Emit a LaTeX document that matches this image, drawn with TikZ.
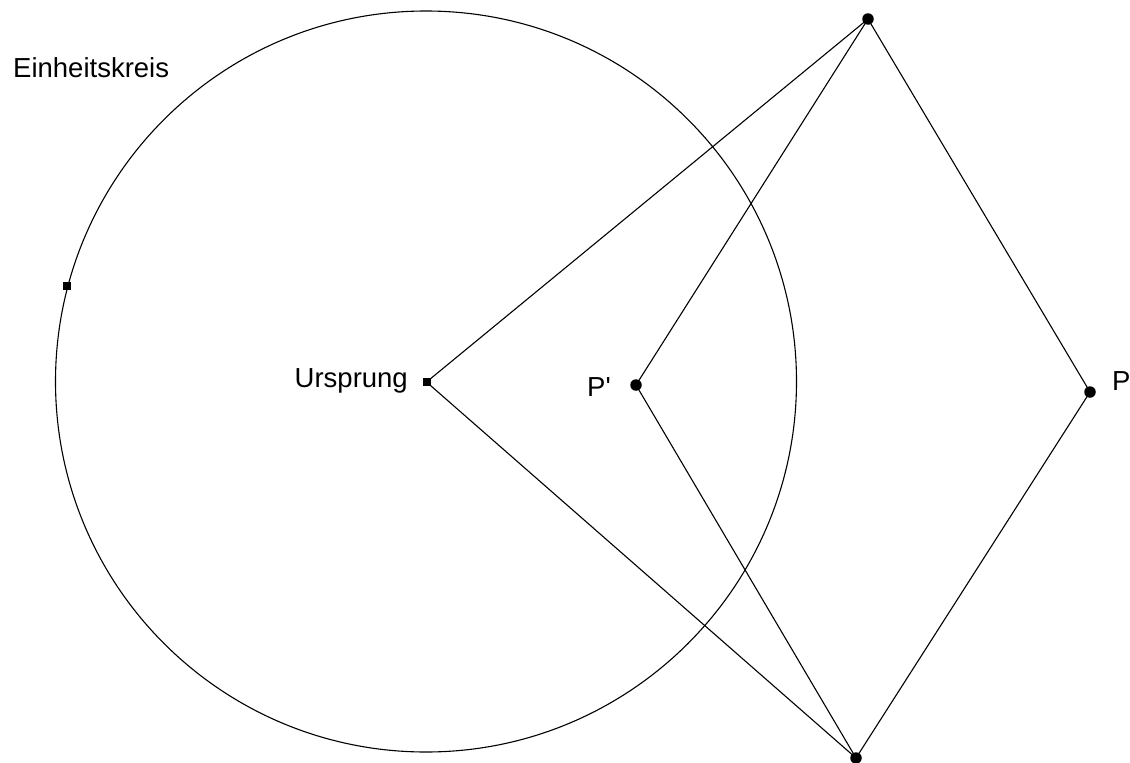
\documentclass[tikz,border=0pt]{standalone}
\usepackage{fontspec}
\setmainfont{Liberation Sans}
\begin{document}
\begin{tikzpicture}[x=1pt,y=-1pt,
  line/.style={draw=black,line width=1.1pt},
  dotpt/.style={circle,fill=black,inner sep=0pt,minimum size=11.5pt},
  sqpt/.style={rectangle,fill=black,inner sep=0pt,minimum size=8pt},
  lbl/.style={inner sep=0pt,font=\fontsize{27.5}{30}\selectfont}]
\useasboundingbox (0,0) rectangle (1130,763);
\coordinate (C) at (426,381.5);
\draw[line] (C) circle[radius=370.5pt];
\node[sqpt] (O) at (426.5,382) {};
\node[sqpt] (S) at (67,285.5) {};
\node[dotpt] (T) at (868,19) {};
\node[dotpt] (B) at (856,758) {};
\node[dotpt] (P) at (1090,392) {};
\node[dotpt] (Pp) at (636,385) {};
\draw[line] (O.center) -- (T.center);
\draw[line] (O.center) -- (B.center);
\draw[line] (Pp.center) -- (T.center);
\draw[line] (Pp.center) -- (B.center);
\draw[line] (T.center) -- (P.center) -- (B.center);
\node[lbl,anchor=base west] (lE) at (13,77) {Einheitskreis};
\node[lbl,anchor=base east] (lO) at (408,387) {Ursprung};
\node[lbl,anchor=base west] (lPp) at (587,396) {P\textquotesingle};
\node[lbl,anchor=base west] (lP) at (1112,390) {P};
\end{tikzpicture}
\end{document}
